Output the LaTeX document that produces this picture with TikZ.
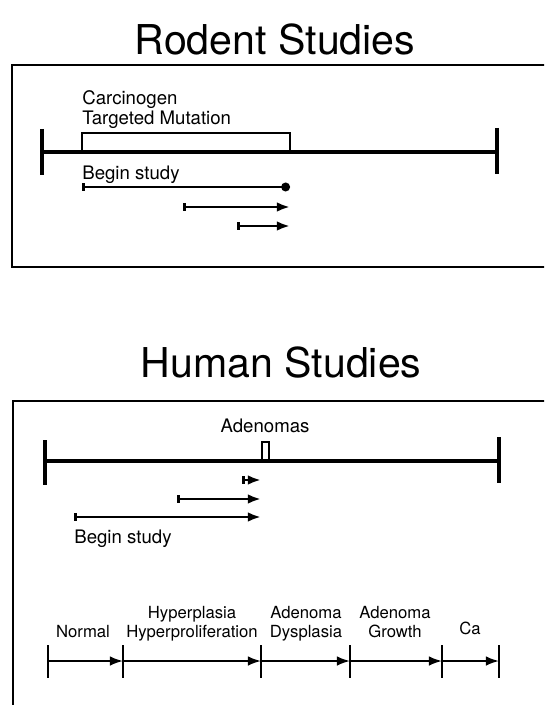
\documentclass[tikz,border=0pt]{standalone}
\usepackage{fontspec}
\setmainfont{TeX Gyre Heros}
\usepackage{tikz}
\usetikzlibrary{arrows.meta, positioning, calc}

\begin{document}
\begin{tikzpicture}[
    x=0.02cm, y=-0.02cm,
    ttl/.style={font=\fontsize{23.4}{28}\selectfont, inner sep=0pt, anchor=base},
    lbl/.style={font=\fontsize{10.6}{12.5}\selectfont, inner sep=0pt, anchor=base west},
    stg/.style={font=\fontsize{9.5}{10.8}\selectfont, inner sep=0pt, anchor=base, align=center},
    frame/.style={line width=0.8pt},
    tline/.style={line width=2.3pt},
    endbar/.style={line width=2.8pt},
    slot/.style={line width=1pt},
    arr/.style={line width=1.7pt, {Bar[width=4.5pt,length=1pt]}-{Latex[length=7.5pt,width=5.5pt]}},
    dotarr/.style={line width=1.7pt, {Bar[width=4.5pt,length=1pt]}-{Circle[length=5pt]}},
    sarr/.style={line width=1.1pt, -{Latex[length=7.5pt,width=5.5pt]}},
    tick/.style={line width=1.1pt}]

  \useasboundingbox (0,0) rectangle (544,705);
  \clip (0,0) rectangle (544,705);

  % rodent studies
  \node[ttl] (rtitle) at (275,55) {Rodent Studies};
  \draw[frame] (12,65) rectangle (570,267);

  \coordinate (rl) at (42,152);
  \coordinate (rr) at (497,152);
  \draw[tline] (rl) -- (rr);
  \draw[endbar] ($(rl)+(0,-23)$) -- ($(rl)+(0,23)$);
  \draw[endbar] ($(rr)+(0,-24)$) -- ($(rr)+(0,22)$);

  \coordinate (ca) at (82,152);
  \coordinate (cb) at (290,133);
  \draw[slot] (ca) |- (cb) -- (cb |- ca);
  \node[lbl] (carc) at (82,105) {Carcinogen};
  \node[lbl] (mut) at (82,125) {Targeted Mutation};

  \node[lbl] (rbegin) at (82,180) {Begin study};
  \coordinate (r1a) at (82,187);  \coordinate (r1b) at (290,187);
  \coordinate (r2a) at (183,207); \coordinate (r2b) at (290,207);
  \coordinate (r3a) at (237,226); \coordinate (r3b) at (290,226);
  \draw[dotarr] (r1a) -- (r1b);
  \draw[arr] (r2a) -- (r2b);
  \draw[arr] (r3a) -- (r3b);

  % human studies
  \node[ttl] (htitle) at (281,377) {Human Studies};
  \draw[frame] (13,401) rectangle (570,730);

  \coordinate (hl) at (45,461);
  \coordinate (hr) at (499,461);
  \draw[tline] (hl) -- (hr);
  \draw[endbar] ($(hl)+(0,-21)$) -- ($(hl)+(0,24)$);
  \draw[endbar] ($(hr)+(0,-24)$) -- ($(hr)+(0,22)$);

  \coordinate (aa) at (262,461);
  \coordinate (ab) at (269,442);
  \draw[slot] (aa) |- (ab) -- (ab |- aa);
  \node[lbl, anchor=base] (aden) at (265,432) {Adenomas};

  \coordinate (h1a) at (242,480); \coordinate (h1b) at (261,480);
  \coordinate (h2a) at (177,499); \coordinate (h2b) at (261,499);
  \coordinate (h3a) at (74,517);  \coordinate (h3b) at (261,517);
  \draw[arr] (h1a) -- (h1b);
  \draw[arr] (h2a) -- (h2b);
  \draw[arr] (h3a) -- (h3b);
  \node[lbl] (hbegin) at (74,543) {Begin study};

  % stages
  \foreach \i/\x in {1/48, 2/123, 3/261, 4/350, 5/442, 6/499} {
    \coordinate (s\i) at (\x,661);
    \draw[tick] ($(s\i)+(0,-16)$) -- ($(s\i)+(0,17)$);
  }
  \foreach \i/\j in {1/2, 2/3, 3/4, 4/5, 5/6}
    \draw[sarr] (s\i) -- (s\j);

  \node[stg] (normal) at (83,637) {Normal};
  \node[stg] (hyper) at (192,637) {Hyperplasia\\Hyperproliferation};
  \node[stg] (dysp) at (306,637) {Adenoma\\Dysplasia};
  \node[stg] (grow) at (395,637) {Adenoma\\Growth};
  \node[stg] (carc2) at (470,634) {Ca};
\end{tikzpicture}
\end{document}
